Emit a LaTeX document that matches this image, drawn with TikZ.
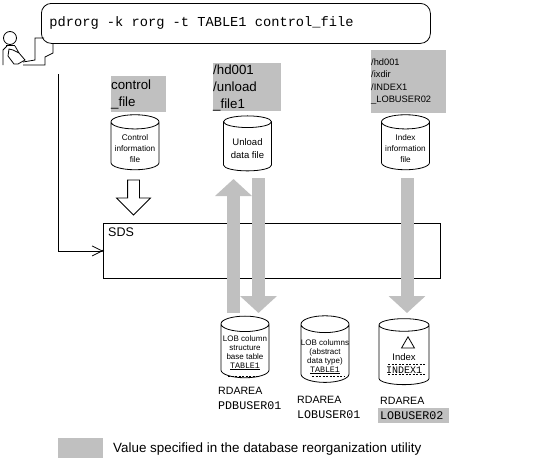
\documentclass[tikz,border=0pt]{standalone}
\usepackage{fontspec}
\setmainfont{Liberation Sans}
\setmonofont{Liberation Mono}
\usetikzlibrary{arrows.meta,positioning,shapes.geometric,shapes.arrows}
\definecolor{utilgrey}{RGB}{192,192,192}
\newcommand{\fsz}[1]{\fontsize{#1}{#1}\selectfont}
\begin{document}
\begin{tikzpicture}[
    x=1pt, y=-1pt,
    dbfile/.style={cylinder, shape border rotate=90, draw, fill=white, aspect=0.35,
                 inner sep=0pt, minimum width=48pt, minimum height=55pt,
                 align=center, line width=0.8pt},
    tag/.style={fill=utilgrey, inner sep=0pt, align=left, text width=#1, anchor=north west},
    tag/.default=60pt,
    arr/.style={-{Straight Barb[length=10pt,width=10pt]}, line width=0.8pt},
    greyarr/.style={-{Triangle[length=17pt,width=36pt]}, line width=13pt, utilgrey},
    rdname/.style={inner sep=0pt, anchor=west, font=\fsz{10.6}},
    rdmono/.style={inner sep=0pt, anchor=west, font=\fsz{11.7}\ttfamily},
    dots/.style={dash pattern=on 2pt off 1.5pt, line width=0.7pt},
  ]
  \useasboundingbox (0,0) rectangle (549,461);

  % Command balloon
  \node[draw, line width=0.8pt, rounded corners=10pt, minimum width=389pt, minimum height=40pt,
        anchor=north west, inner sep=0pt, text width=373pt, font=\fsz{13.7}\ttfamily]
    (cmd) at (41,3) {\spaceskip=8.22pt\raisebox{-2pt}{pdrorg -k rorg -t TABLE1 control\_file}};
  \draw[line width=0.8pt] (44,38) -- (35,38) -- (35,60) -- (23,62);
  \draw[line width=0.8pt] (53,43) -- (53,53) -- (45,57) -- (45,65) -- (23,65);

  % Person
  \node[draw, circle, line width=0.8pt, minimum size=13pt, inner sep=0pt] (head) at (10,38) {};
  \draw[line width=1.6pt] (6,45.5) -- (15,45.5);
  \draw[line width=0.8pt] (3,65) -- (3,50) -- (7,46);
  \draw[line width=0.8pt] (15,46) -- (19,53) -- (25,60) -- (18,64) -- (14,64) -- (8,56) -- (9,49) -- (13,50) -- (19,53);

  % Main box
  \node[draw, line width=0.8pt, minimum width=337pt, minimum height=55pt, anchor=north west,
        inner sep=0pt] (sds) at (103,223) {};
  \node[anchor=north west, inner sep=0pt, font=\fsz{12.5}] (sdstext) at (108,227.5) {SDS};
  \coordinate (cmdout) at (58,74);
  \draw[arr] (cmdout) |- (sds.west);
  \fill (sds.west) circle (1.2pt);

  % Files
  \node[dbfile, font=\fsz{8.2}] (control) at (135,146)
    {\rule{0pt}{11pt}Control\\[2.5pt]information\\[2.5pt]file};
  \node[dbfile, font=\fsz{9.5}] (unload) at (247.5,146.5)
    {\rule{0pt}{11pt}Unload\\[3.5pt]data file};
  \node[dbfile, font=\fsz{8.2}] (index) at (405.5,146)
    {\rule{0pt}{11pt}Index\\[2.5pt]information\\[2.5pt]file};

  % Grey names
  \node[tag=55pt, minimum height=36pt, font=\fsz{13.3}] (controltag) at (111,76)
    {control\\[4pt]\_file};
  \node[tag=68pt, minimum height=45pt, font=\fsz{13.3}] (unloadtag) at (213,63)
    {\rule{0pt}{11pt}/hd001\\[4pt]/unload\\[4pt]\_file1};
  \node[tag=75pt, minimum height=63pt, font=\fsz{9.3}] (indextag) at (371,50)
    {/hd001\\[3pt]/ixdir\\[3pt]/INDEX1\\[3pt]\_LOBUSER02};

  % Lower cylinders
  \node[dbfile, minimum height=57pt, font=\fsz{8}] (basetable) at (245,351)
    {\rule{0pt}{10pt}LOB column\\[0.7pt]structure\\[0.7pt]base table\\[0.7pt]{\fsz{8.3}\ttfamily\underline{TABLE1}}};
  \node[dbfile, minimum height=62pt, font=\fsz{8}] (lobcol) at (325,353.5)
    {\rule{0pt}{12pt}LOB columns\\[1pt](abstract\\[1pt]data type)\\[1pt]{\fsz{8.3}\ttfamily\underline{TABLE1}}};
  \node[dbfile, minimum width=50pt, minimum height=66pt, font=\fsz{9.5}] (lobindex) at (404,355)
    {\rule{0pt}{23pt}Index\\[3.5pt]{\fsz{10}\ttfamily INDEX1}};
  \node[draw, regular polygon, regular polygon sides=3, line width=0.8pt, inner sep=0pt,
        minimum size=15pt] (mark) at (408,344.3) {};
  \draw[dots] (228,376) -- (258,376);
  \draw[dots] (312,376) -- (344,376);
  \draw[dots] (388,364) -- (426,364);
  \draw[dots] (388,374.5) -- (426,374.5);

  % Block arrows
  \node[single arrow, draw, line width=0.8pt, fill=white, rotate=-90, inner sep=0pt,
        minimum height=35pt, single arrow head extend=11pt,
        single arrow head indent=0pt] (ctrlarr) at (133.5,194.5) {\rule{0pt}{11pt}};
  \coordinate (upfrom) at (233.5,313);
  \coordinate (upto) at (233.5,179);
  \coordinate (downfrom) at (258.5,178);
  \coordinate (downto) at (258.5,313);
  \coordinate (ixfrom) at (407,178);
  \coordinate (ixto) at (407,313);
  \draw[greyarr] (upfrom) -- (upto);
  \draw[greyarr] (downfrom) -- (downto);
  \draw[greyarr] (ixfrom) -- (ixto);

  % RDAREA names
  \node[rdname] (rdone) at (218,391) {RDAREA};
  \node[rdmono] (rdonename) at (218,405.5) {PDBUSER01};
  \node[rdname] (rdtwo) at (297,400) {RDAREA};
  \node[rdmono] (rdtwoname) at (297,415) {LOBUSER01};
  \node[rdname] (rdthree) at (380,401) {RDAREA};
  \node[tag=71pt, minimum height=15pt] (rdthreebox) at (378,408) {};
  \node[rdmono, right=2pt of rdthreebox.west] (rdthreename) {LOBUSER02};

  % Legend
  \node[fill=utilgrey, minimum width=45pt, minimum height=20pt, inner sep=0pt, anchor=north west]
    (legendbox) at (58,438) {};
  \node[inner sep=0pt, anchor=west, font=\fsz{13.4}] (legendtext) at (113,449)
    {Value specified in the database reorganization utility};
\end{tikzpicture}
\end{document}
